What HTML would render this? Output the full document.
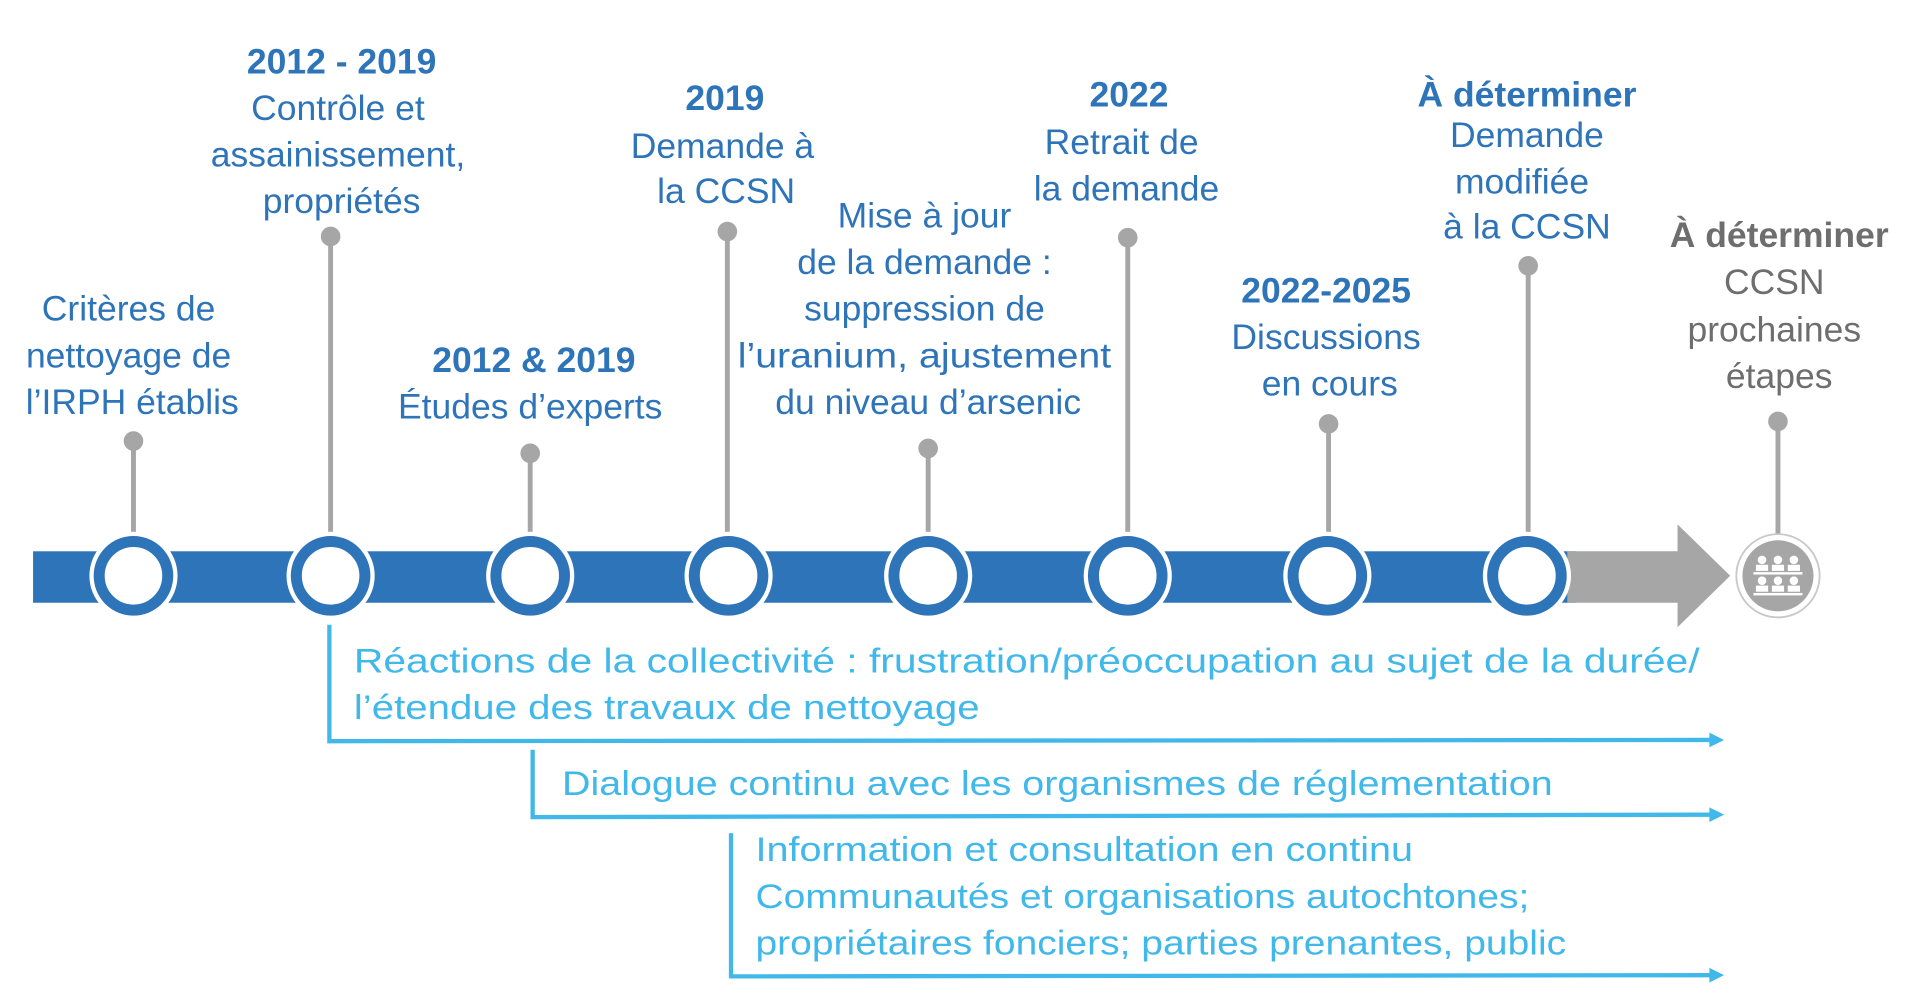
<!DOCTYPE html>
<html><head><meta charset="utf-8"><style>
html,body{margin:0;padding:0;background:#fff;}
svg{display:block;}
text{font-family:"Liberation Sans",sans-serif;}
.b{fill:#2e74b9;font-size:29px;}
.bb{fill:#2e74b9;font-size:29px;font-weight:bold;}
.g{fill:#6e6e6e;font-size:29px;}
.gb{fill:#6e6e6e;font-size:29px;font-weight:bold;}
.l{fill:#41b8ea;font-size:28px;}
</style></head><body>
<svg width="1920" height="996" viewBox="0 0 1568 813" preserveAspectRatio="none" xmlns="http://www.w3.org/2000/svg">
<rect x="27" y="450" width="1260" height="42" fill="#2e74b9"/>
<polygon points="1280,450 1370,450 1370,428 1413,470 1370,512 1370,492 1280,492" fill="#a6a6a6"/>
<g stroke="#a6a6a6" stroke-width="4" fill="#a6a6a6">
<line x1="109" y1="360" x2="109" y2="437"/><circle cx="109" cy="360" r="6"/>
<line x1="270" y1="193" x2="270" y2="437"/><circle cx="270" cy="193" r="6"/>
<line x1="433" y1="370" x2="433" y2="437"/><circle cx="433" cy="370" r="6"/>
<line x1="594" y1="189" x2="594" y2="437"/><circle cx="594" cy="189" r="6"/>
<line x1="758" y1="366" x2="758" y2="437"/><circle cx="758" cy="366" r="6"/>
<line x1="921" y1="194" x2="921" y2="437"/><circle cx="921" cy="194" r="6"/>
<line x1="1085" y1="346" x2="1085" y2="437"/><circle cx="1085" cy="346" r="6"/>
<line x1="1248" y1="217" x2="1248" y2="437"/><circle cx="1248" cy="217" r="6"/>
<line x1="1452" y1="344" x2="1452" y2="437"/><circle cx="1452" cy="344" r="6"/>
</g>
<g>
<circle cx="109" cy="470" r="36" fill="#fff"/><circle cx="109" cy="470" r="28" fill="#fff" stroke="#2e74b9" stroke-width="9"/>
<circle cx="270" cy="470" r="36" fill="#fff"/><circle cx="270" cy="470" r="28" fill="#fff" stroke="#2e74b9" stroke-width="9"/>
<circle cx="433" cy="470" r="36" fill="#fff"/><circle cx="433" cy="470" r="28" fill="#fff" stroke="#2e74b9" stroke-width="9"/>
<circle cx="595" cy="470" r="36" fill="#fff"/><circle cx="595" cy="470" r="28" fill="#fff" stroke="#2e74b9" stroke-width="9"/>
<circle cx="758" cy="470" r="36" fill="#fff"/><circle cx="758" cy="470" r="28" fill="#fff" stroke="#2e74b9" stroke-width="9"/>
<circle cx="921" cy="470" r="36" fill="#fff"/><circle cx="921" cy="470" r="28" fill="#fff" stroke="#2e74b9" stroke-width="9"/>
<circle cx="1084" cy="470" r="36" fill="#fff"/><circle cx="1084" cy="470" r="28" fill="#fff" stroke="#2e74b9" stroke-width="9"/>
<circle cx="1247" cy="470" r="36" fill="#fff"/><circle cx="1247" cy="470" r="28" fill="#fff" stroke="#2e74b9" stroke-width="9"/>
<circle cx="1452" cy="470" r="34" fill="#fff" stroke="#c8c8c8" stroke-width="1.5"/>
<circle cx="1452" cy="470" r="29" fill="#a6a6a6"/>
<g fill="#fff">
<circle cx="1439" cy="457" r="3.5"/><circle cx="1452" cy="457" r="3.5"/><circle cx="1465" cy="457" r="3.5"/>
<rect x="1434" y="461" width="10" height="5"/><rect x="1447" y="461" width="10" height="5"/><rect x="1460" y="461" width="10" height="5"/>
<rect x="1432" y="467" width="40" height="2"/>
<circle cx="1439" cy="474" r="3.5"/><circle cx="1452" cy="474" r="3.5"/><circle cx="1465" cy="474" r="3.5"/>
<rect x="1434" y="478" width="10" height="5"/><rect x="1447" y="478" width="10" height="5"/><rect x="1460" y="478" width="10" height="5"/>
<rect x="1432" y="484" width="40" height="2"/>
</g>
</g>
<g text-anchor="middle" dominant-baseline="central">
<text class="b" x="105" y="252">Critères de</text>
<text class="b" x="105" y="290">nettoyage de</text>
<text class="b" x="108" y="328">l’IRPH établis</text>

<text class="bb" x="279" y="50">2012 - 2019</text>
<text class="b" x="276" y="88">Contrôle et</text>
<text class="b" x="276" y="126">assainissement,</text>
<text class="b" x="279" y="164">propriétés</text>

<text class="bb" x="436" y="294">2012 &amp; 2019</text>
<text class="b" x="433" y="332">Études d’experts</text>

<text class="bb" x="592" y="80">2019</text>
<text class="b" x="590" y="119">Demande à</text>
<text class="b" x="593" y="156">la CCSN</text>

<text class="b" x="755" y="176">Mise à jour</text>
<text class="b" x="755" y="214">de la demande :</text>
<text class="b" x="755" y="252">suppression de</text>
<text class="b" x="755" y="290" textLength="305" lengthAdjust="spacingAndGlyphs">l’uranium, ajustement</text>
<text class="b" x="758" y="328">du niveau d’arsenic</text>

<text class="bb" x="922" y="77">2022</text>
<text class="b" x="916" y="116">Retrait de</text>
<text class="b" x="920" y="154">la demande</text>

<text class="bb" x="1083" y="237">2022-2025</text>
<text class="b" x="1083" y="275">Discussions</text>
<text class="b" x="1086" y="313">en cours</text>

<text class="bb" x="1247" y="77">À déterminer</text>
<text class="b" x="1247" y="110">Demande</text>
<text class="b" x="1243" y="148">modifiée</text>
<text class="b" x="1247" y="185">à la CCSN</text>

<text class="gb" x="1453" y="192">À déterminer</text>
<text class="g" x="1449" y="230">CCSN</text>
<text class="g" x="1449" y="269">prochaines</text>
<text class="g" x="1453" y="307">étapes</text>
</g>
<g stroke="#41b8ea" stroke-width="3.5" fill="none">
<polyline points="269,510 269,605 1398,604"/>
<polyline points="435,612 435,667 1398,665"/>
<polyline points="597,680 597,797 1398,796"/>
</g>
<g fill="#41b8ea">
<polygon points="1396,598 1408,604 1396,610"/>
<polygon points="1396,659 1408,665 1396,671"/>
<polygon points="1396,790 1408,796 1396,802"/>
</g>
<g dominant-baseline="central">
<text class="l" x="289" y="540" textLength="1099" lengthAdjust="spacingAndGlyphs">Réactions de la collectivité : frustration/préoccupation au sujet de la durée/</text>
<text class="l" x="289" y="578" textLength="511" lengthAdjust="spacingAndGlyphs">l’étendue des travaux de nettoyage</text>
<text class="l" x="459" y="640" textLength="809" lengthAdjust="spacingAndGlyphs">Dialogue continu avec les organismes de réglementation</text>
<text class="l" x="617" y="694" textLength="537" lengthAdjust="spacingAndGlyphs">Information et consultation en continu</text>
<text class="l" x="617" y="732" textLength="632" lengthAdjust="spacingAndGlyphs">Communautés et organisations autochtones;</text>
<text class="l" x="617" y="770" textLength="662" lengthAdjust="spacingAndGlyphs">propriétaires fonciers; parties prenantes, public</text>
</g>
</svg>
</body></html>
